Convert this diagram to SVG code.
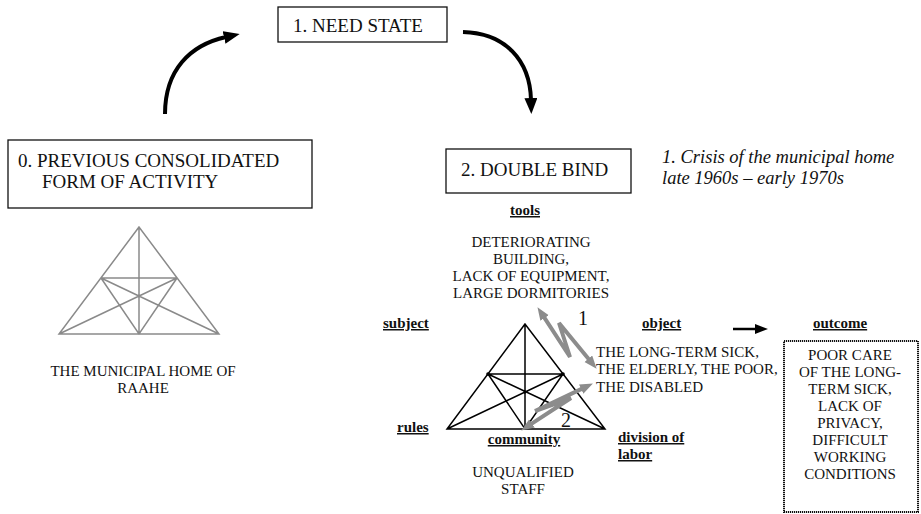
<svg xmlns="http://www.w3.org/2000/svg" width="921" height="514" viewBox="0 0 921 514" font-family="'Liberation Serif', 'Times New Roman', serif">
  <style>
    text { font-family: "Liberation Serif", "Times New Roman", serif; fill: #111; }
    .big { font-size: 19px; }
    .lbl { font-size: 15px; }
    .head { font-size: 15px; font-weight: bold; text-decoration: underline; }
    .num { font-size: 20px; }
    .ital { font-size: 18.5px; font-style: italic; }
    .box { fill: #fff; stroke: #111; stroke-width: 1.3; }
    .tri-grey { fill: none; stroke: #8a8a8a; stroke-width: 1.5; }
    .tri-black { fill: none; stroke: #000; stroke-width: 1.5; }
    .flow { fill: none; stroke: #000; stroke-width: 4; }
    .zig { fill: none; stroke: #8c8c8c; stroke-width: 4; stroke-linejoin: miter; }
  </style>
  <defs>
    <marker id="bigHead" markerUnits="userSpaceOnUse" markerWidth="18" markerHeight="14" refX="2" refY="6.5" orient="auto">
      <path d="M0,0 L16,6.5 L0,13 z" fill="#000"/>
    </marker>
    <marker id="smallHead" markerUnits="userSpaceOnUse" markerWidth="14" markerHeight="11" refX="1" refY="5" orient="auto">
      <path d="M0,0 L13,5 L0,10 z" fill="#000"/>
    </marker>
    <marker id="greyHead" markerUnits="userSpaceOnUse" markerWidth="14" markerHeight="11" refX="4" refY="5" orient="auto-start-reverse">
      <path d="M0,0 L13,5 L0,10 z" fill="#8c8c8c"/>
    </marker>
  </defs>
  <rect width="921" height="514" fill="#fff"/>

  <!-- connectors -->
  <g id="connectors">
    <path class="flow" d="M165,114 C165,70 190,45 226,37" marker-end="url(#bigHead)"/>
    <path class="flow" d="M463,32 C505,33 530,60 531,100" marker-end="url(#bigHead)"/>
    <path d="M733,329 L756,329" stroke="#000" stroke-width="2.5" marker-end="url(#smallHead)"/>
  </g>

  <!-- 1. need state -->
  <g id="need-state">
    <rect class="box" x="278" y="7" width="169" height="35"/>
    <text class="big" x="293" y="32">1. NEED STATE</text>
  </g>

  <!-- 0. previous form -->
  <g id="previous-form">
    <rect class="box" x="8" y="140" width="304" height="68"/>
    <text class="big" x="18" y="167">0. PREVIOUS CONSOLIDATED</text>
    <text class="big" x="42" y="188">FORM OF ACTIVITY</text>
  </g>

  <!-- 2. double bind -->
  <g id="double-bind">
    <rect class="box" x="446" y="149" width="185" height="44"/>
    <text class="big" x="461" y="176">2. DOUBLE BIND</text>
  </g>

  <!-- caption -->
  <g id="caption">
    <text class="ital" x="662" y="163">1. Crisis of the municipal home</text>
    <text class="ital" x="662" y="184">late 1960s – early 1970s</text>
  </g>

  <!-- earlier activity system -->
  <g id="model-previous">
    <path class="tri-grey" d="M139,227 L59,334 L219,334 Z M139,227 L139,334 M101,278 L177,278 M101,278 L139,334 L177,278 M59,334 L177,278 M219,334 L101,278"/>
    <text class="lbl" x="143" y="376" text-anchor="middle">THE MUNICIPAL HOME OF</text>
    <text class="lbl" x="143" y="393" text-anchor="middle">RAAHE</text>
  </g>

  <!-- current activity system -->
  <g id="model-current">
    <path class="tri-black" d="M525,324 L447,429 L605,429 Z M525,324 L525,429 M488,374 L563,374 M488,374 L525,429 L563,374 M447,429 L563,374 M605,429 L488,374"/>
    <g fill="#000">
      <circle cx="488" cy="374" r="1.8"/>
      <circle cx="563" cy="374" r="1.8"/>
      <circle cx="525" cy="392" r="1.5"/>
    </g>
  </g>

  <!-- contradictions -->
  <g id="contradictions">
    <path class="zig" d="M542.4,314.7 L570,357 L559,323 L590.9,361.8" marker-start="url(#greyHead)" marker-end="url(#greyHead)"/>
    <path class="zig" d="M584.8,387.4 L535,411 L571,398 L528.7,425.6" marker-start="url(#greyHead)" marker-end="url(#greyHead)"/>
    <text class="num" x="578" y="325">1</text>
    <text class="num" x="561" y="427">2</text>
  </g>

  <!-- node labels -->
  <g id="tools">
    <text class="head" x="525" y="215" text-anchor="middle">tools</text>
    <text class="lbl" x="531" y="247" text-anchor="middle">DETERIORATING</text>
    <text class="lbl" x="531" y="264" text-anchor="middle">BUILDING,</text>
    <text class="lbl" x="531" y="281" text-anchor="middle">LACK OF EQUIPMENT,</text>
    <text class="lbl" x="531" y="298" text-anchor="middle">LARGE DORMITORIES</text>
  </g>
  <g id="subject">
    <text class="head" x="383" y="328">subject</text>
  </g>
  <g id="object">
    <text class="head" x="642" y="328">object</text>
    <text class="lbl" x="596" y="357">THE LONG-TERM SICK,</text>
    <text class="lbl" x="596" y="374">THE ELDERLY, THE POOR,</text>
    <text class="lbl" x="596" y="392">THE DISABLED</text>
  </g>
  <g id="rules">
    <text class="head" x="397" y="432">rules</text>
  </g>
  <g id="community">
    <text class="head" x="524" y="444" text-anchor="middle">community</text>
    <text class="lbl" x="523" y="477" text-anchor="middle">UNQUALIFIED</text>
    <text class="lbl" x="523" y="494" text-anchor="middle">STAFF</text>
  </g>
  <g id="division-of-labor">
    <text class="head" x="618" y="442">division of</text>
    <text class="head" x="618" y="459">labor</text>
  </g>

  <!-- outcome -->
  <g id="outcome">
    <text class="head" x="813" y="328">outcome</text>
    <rect x="784" y="341" width="134" height="171" fill="#fff" stroke="#111" stroke-width="2" stroke-dasharray="1.2 0.8"/>
    <text class="lbl" x="850" y="360" text-anchor="middle">POOR CARE</text>
    <text class="lbl" x="850" y="377" text-anchor="middle">OF THE LONG-</text>
    <text class="lbl" x="850" y="394" text-anchor="middle">TERM SICK,</text>
    <text class="lbl" x="850" y="411" text-anchor="middle">LACK OF</text>
    <text class="lbl" x="850" y="428" text-anchor="middle">PRIVACY,</text>
    <text class="lbl" x="850" y="445" text-anchor="middle">DIFFICULT</text>
    <text class="lbl" x="850" y="462" text-anchor="middle">WORKING</text>
    <text class="lbl" x="850" y="479" text-anchor="middle">CONDITIONS</text>
  </g>
</svg>
